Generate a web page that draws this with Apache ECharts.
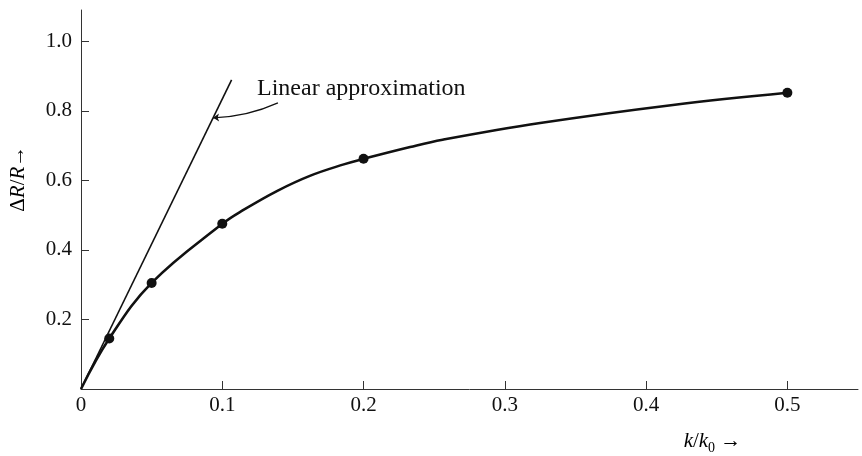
<!DOCTYPE html>
<html>
<head>
<meta charset="utf-8">
<script src="https://cdn.jsdelivr.net/npm/echarts@6/dist/echarts.min.js"></script>
<style>
  html, body { margin: 0; padding: 0; background: #fff; }
  #chart { width: 862px; height: 456px; }
</style>
</head>
<body>
<div id="chart"></div>
<script>
// measured points (k/k0, dR/R)
const measuredX = [0.02, 0.05, 0.1, 0.2, 0.5];
const measuredY = [0.145, 0.305, 0.475, 0.662, 0.852];

// the drawn curve, read along its length
const curveX = [0, 0.02, 0.05, 0.1, 0.115, 0.139, 0.162, 0.186, 0.2, 0.233, 0.256, 0.325, 0.419, 0.5];
const curveY = [0, 0.145, 0.305, 0.475, 0.515, 0.570, 0.613, 0.646, 0.662, 0.696, 0.717, 0.765, 0.817, 0.852];

// linear approximation line ends
const linearX = [0, 0.1066];
const linearY = [0, 0.889];

// arrow from the note to the line
const arrowFrom = [0.1394, 0.823];
const arrowTo = [0.0935, 0.78];
const noteAt = [0.1246, 0.863];
const noteText = 'Linear approximation';

const xTicks = [0, 0.1, 0.2, 0.3, 0.4, 0.5];
const yTicks = [0.2, 0.4, 0.6, 0.8, 1.0];

const FONT = '"Liberation Serif", "DejaVu Serif", serif';
const INK = '#111';

const zip = (xs, ys) => xs.map((x, i) => [x, ys[i]]);

const chart = echarts.init(document.getElementById('chart'), null, { renderer: 'canvas' });

chart.setOption({
  animation: false,
  backgroundColor: '#fff',
  grid: { left: 81, right: 4, top: 10, bottom: 67 },
  xAxis: {
    type: 'value',
    min: 0,
    max: 0.55,
    interval: 0.1,
    splitLine: { show: false },
    axisLine: { lineStyle: { color: '#333', width: 1 } },
    axisTick: { inside: true, length: 8, lineStyle: { color: '#333' }, customValues: xTicks.slice(1) },
    axisLabel: {
      customValues: xTicks,
      margin: 6,
      color: INK,
      fontFamily: FONT,
      fontSize: 21,
      formatter: v => (v === 0 ? '0' : v.toFixed(1))
    }
  },
  yAxis: {
    type: 'value',
    min: 0,
    max: 1.09,
    interval: 0.2,
    splitLine: { show: false },
    axisLine: { lineStyle: { color: '#333', width: 1 } },
    axisTick: { inside: true, length: 8, lineStyle: { color: '#333' }, customValues: yTicks },
    axisLabel: {
      customValues: yTicks,
      margin: 9,
      color: INK,
      fontFamily: FONT,
      fontSize: 21,
      formatter: v => v.toFixed(1)
    }
  },
  series: [
    {
      name: 'linear',
      type: 'line',
      data: zip(linearX, linearY),
      showSymbol: false,
      lineStyle: { color: INK, width: 1.6 },
      silent: true
    },
    {
      name: 'curve',
      type: 'line',
      data: zip(curveX, curveY),
      smooth: 0.4,
      showSymbol: false,
      lineStyle: { color: INK, width: 2.6 },
      silent: true
    },
    {
      name: 'measured',
      type: 'scatter',
      data: zip(measuredX, measuredY),
      symbol: 'circle',
      symbolSize: 10,
      itemStyle: { color: INK, opacity: 1 },
      silent: true
    },
    {
      name: 'pointer',
      type: 'lines',
      coordinateSystem: 'cartesian2d',
      data: [{ coords: [arrowFrom, arrowTo] }],
      symbol: ['none', 'arrow'],
      symbolSize: 6,
      lineStyle: { color: INK, width: 1.2, curveness: 0.1, opacity: 1 },
      silent: true
    }
  ]
});

// texts placed through the grid's scales
const notePx = chart.convertToPixel({ gridIndex: 0 }, noteAt);
const xNamePx = chart.convertToPixel({ gridIndex: 0 }, [0.447, 0]);
const yNamePx = chart.convertToPixel({ gridIndex: 0 }, [0, 0.605]);

const rich = {
  n: { fontFamily: FONT, fontSize: 21, color: INK, lineHeight: 28 },
  i: { fontFamily: FONT, fontSize: 21, fontStyle: 'italic', color: INK, lineHeight: 28 },
  s: { fontFamily: FONT, fontSize: 14, color: INK, lineHeight: 14, verticalAlign: 'bottom' }
};

chart.setOption({
  graphic: [
    {
      type: 'text',
      x: notePx[0],
      y: notePx[1],
      style: {
        text: noteText,
        fontFamily: FONT,
        fontSize: 24,
        fill: INK,
        align: 'left',
        verticalAlign: 'middle'
      }
    },
    {
      type: 'text',
      x: xNamePx[0],
      y: xNamePx[1] + 52,
      style: {
        text: '{i|k}{n|/}{i|k}{s|0}{n| →}',
        rich: rich,
        align: 'center',
        verticalAlign: 'middle'
      }
    },
    {
      type: 'text',
      x: 18,
      y: yNamePx[1],
      rotation: Math.PI / 2,
      style: {
        text: '{n|Δ}{i|R}{n|/}{i|R}{n|→}',
        rich: rich,
        align: 'center',
        verticalAlign: 'middle'
      }
    }
  ]
});

window.addEventListener('resize', () => chart.resize());
</script>
</body>
</html>
